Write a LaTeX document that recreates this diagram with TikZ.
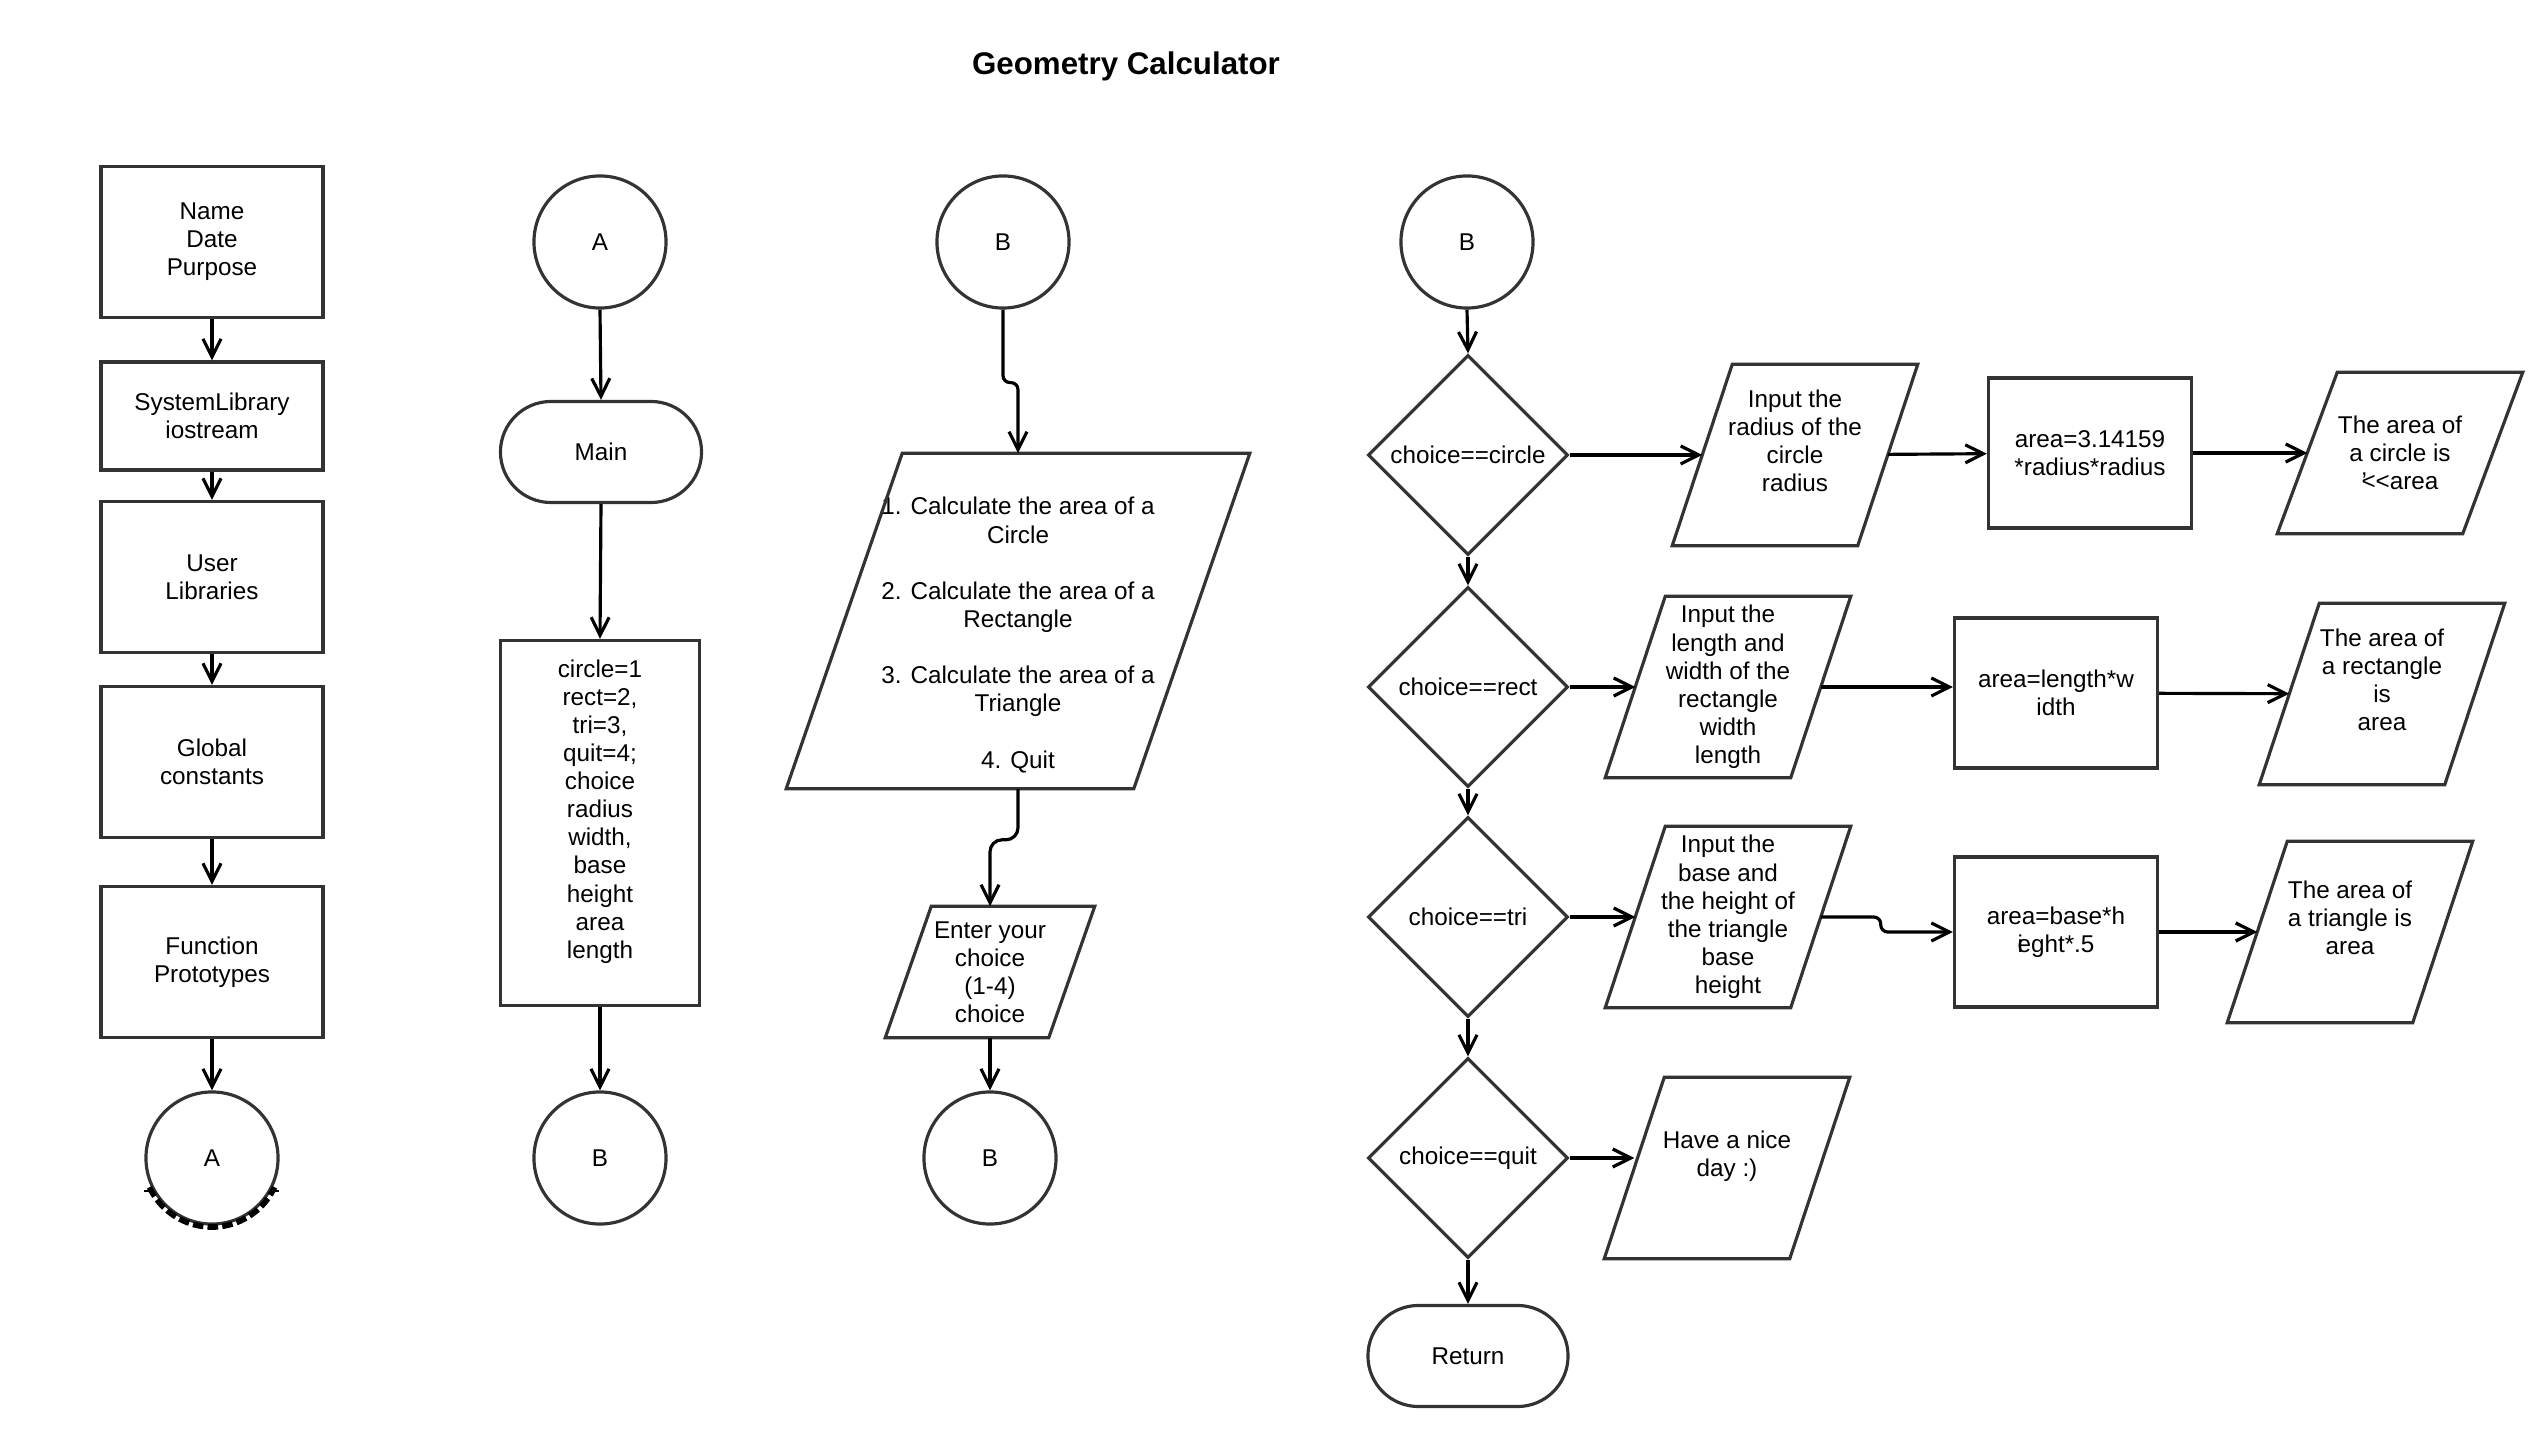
\documentclass[tikz,border=0pt]{standalone}
\usepackage{fontspec}
\setmainfont{Liberation Sans}
\usetikzlibrary{shapes.geometric,shapes.misc,arrows.meta}
\definecolor{linegray}{HTML}{333333}
\tikzset{
  shp/.style={draw=linegray,line width=0.9pt,align=center,inner sep=0pt,font=\fontsize{6.9}{8}\selectfont},
  procbox/.style={shp,rectangle,minimum width=2.03cm,minimum height=1.5cm},
  conn/.style={shp,circle,minimum size=1.32cm,fill=white},
  term/.style={shp,rounded rectangle,minimum width=2.01cm,minimum height=1.01cm},
  decision/.style={shp,diamond,minimum width=2cm,minimum height=2cm},
  io/.style={rectangle,align=center,inner sep=0pt,font=\fontsize{6.9}{8}\selectfont,minimum width=1.84cm,minimum height=1.8cm},
  flow/.style={-{Straight Barb[length=1.8mm,width=1.8mm]},line width=0.9pt},
}
\begin{document}
\begin{tikzpicture}[x=0.01cm,y=-0.01cm]
  \useasboundingbox (0,0) rectangle (2544,1446);
  \node [font=\bfseries\fontsize{8.9}{10}\selectfont] (title) at (1126,66) {Geometry Calculator};

  \node [procbox,minimum width=2.22cm,minimum height=1.51cm] (head) at (212,242) {Name\\Date\\Purpose};
  \node [procbox,minimum width=2.22cm,minimum height=1.08cm] (syslib) at (212,416) {SystemLibrary\\iostream};
  \node [procbox,minimum width=2.22cm,minimum height=1.51cm] (userlib) at (212,577) {User\\Libraries};
  \node [procbox,minimum width=2.22cm,minimum height=1.51cm] (consts) at (212,762) {Global\\constants};
  \node [procbox,minimum width=2.22cm,minimum height=1.51cm] (protos) at (212,962) {Function\\Prototypes};
  \draw [line width=0.5pt] (144,1191) -- (279,1191);
  \node [conn] (A1) at (212,1158) {A};
  \draw [line width=1.6pt,dash pattern=on 3pt off 1.2pt] (A1.center) ++(205:0.69cm) arc [start angle=205,end angle=335,radius=0.69cm];

  \node [conn] (A2) at (600,242) {A};
  \node [term] (main) at (601,452) {Main};
  \node [procbox,minimum width=1.99cm,minimum height=3.65cm] (decl) at (600,823) {circle=1\\rect=2,\\tri=3,\\quit=4;\\choice\\radius\\width,\\base\\height\\area\\length\\\mbox{}};
  \node [conn] (B2) at (600,1158) {B};

  \node [conn] (B3) at (1003,242) {B};
  \node [io,minimum width=3.46cm,minimum height=3.34cm] (menu) at (1018,621) {\mbox{}\\[5pt]1. Calculate the area of a\\Circle\\[8pt]2. Calculate the area of a\\Rectangle\\[8pt]3. Calculate the area of a\\Triangle\\[8pt]4. Quit};
  \node [io,minimum width=1.62cm,minimum height=1.3cm] (choice) at (990,972) {Enter your\\choice\\(1-4)\\choice};
  \node [conn] (B4) at (990,1158) {B};

  \node [conn] (B5) at (1467,242) {B};
  \node [decision] (isCircle) at (1468,455) {choice==circle};
  \node [decision] (isRect) at (1468,687) {choice==rect};
  \node [decision] (isTri) at (1468,917) {choice==tri};
  \node [decision] (isQuit) at (1468,1158) {choice==quit};
  \node [term,minimum width=2cm] (ret) at (1468,1356) {Return};

  \node [io] (inCircle) at (1795,455) {Input the\\radius of the\\circle\\radius\\\mbox{}};
  \node [procbox] (calcCircle) at (2090,453) {area=3.14159\\*radius*radius};
  \node [io,minimum height=1.6cm] (outCircle) at (2400,453) {The area of\\a circle is\\\rlap{'}<{}<area};
  \node [io] (inRect) at (1728,687) {Input the\\length and\\width of the\\rectangle\\width\\length};
  \node [procbox] (calcRect) at (2056,693) {area=length*w\\idth};
  \node [io] (outRect) at (2382,694) {The area of\\a rectangle\\is\\area\\\mbox{}};
  \node [io] (inTri) at (1728,917) {Input the\\base and\\the height of\\the triangle\\base\\height};
  \node [procbox] (calcTri) at (2056,932) {area=base*h\\\rlap{i}eght*.5};
  \node [io] (outTri) at (2350,932) {The area of\\a triangle is\\area\\\mbox{}};
  \node [io] (inQuit) at (1727,1168) {Have a nice\\day :)\\\mbox{}};

  \foreach \n/\s in {menu/5.8mm,choice/2.3mm,inCircle/3mm,outCircle/3mm,inRect/3mm,outRect/3mm,inTri/3mm,outTri/3mm,inQuit/3mm}
    \draw [draw=linegray,line width=0.9pt] ([xshift=\s]\n.north west) -- ([xshift=\s]\n.north east) -- ([xshift=-\s]\n.south east) -- ([xshift=-\s]\n.south west) -- cycle;

  \draw [flow] (head.south) -- (syslib.north);
  \draw [flow] (syslib.south) -- (userlib.north);
  \draw [flow] (userlib.south) -- (consts.north);
  \draw [flow] (consts.south) -- (protos.north);
  \draw [flow] (protos.south) -- (A1.north);

  \draw [flow] (A2.south) -- (main.north);
  \draw [flow] (main.south) -- (decl.north);
  \draw [flow] (decl.south) -- (B2.north);

  \draw [flow,rounded corners=0.7mm] (B3.south) -- ++(0,73) -| (menu.north);
  \draw [flow,rounded corners=1.2mm] (menu.south) -- ++(0,51) -| (choice.north);
  \draw [flow] (choice.south) -- (B4.north);

  \draw [flow] (B5.south) -- (isCircle.north);
  \draw [flow] (isCircle.south) -- (isRect.north);
  \draw [flow] (isRect.south) -- (isTri.north);
  \draw [flow] (isTri.south) -- (isQuit.north);
  \draw [flow] (isQuit.south) -- (ret.north);

  \draw [flow] (isCircle) -- (inCircle);
  \draw [flow] (inCircle) -- (calcCircle);
  \draw [flow] (calcCircle) -- (outCircle);
  \draw [flow] (isRect) -- (inRect);
  \draw [flow] (inRect.east) -- (inRect.east -| calcRect.west);
  \draw [flow] (calcRect) -- (outRect);
  \draw [flow] (isTri) -- (inTri);
  \draw [flow,rounded corners=0.7mm] (inTri.east) -- ++(60,0) |- (calcTri.west);
  \draw [flow] (calcTri) -- (outTri);
  \draw [flow] (isQuit.east) -- (isQuit.east -| inQuit.west);
\end{tikzpicture}
\end{document}
